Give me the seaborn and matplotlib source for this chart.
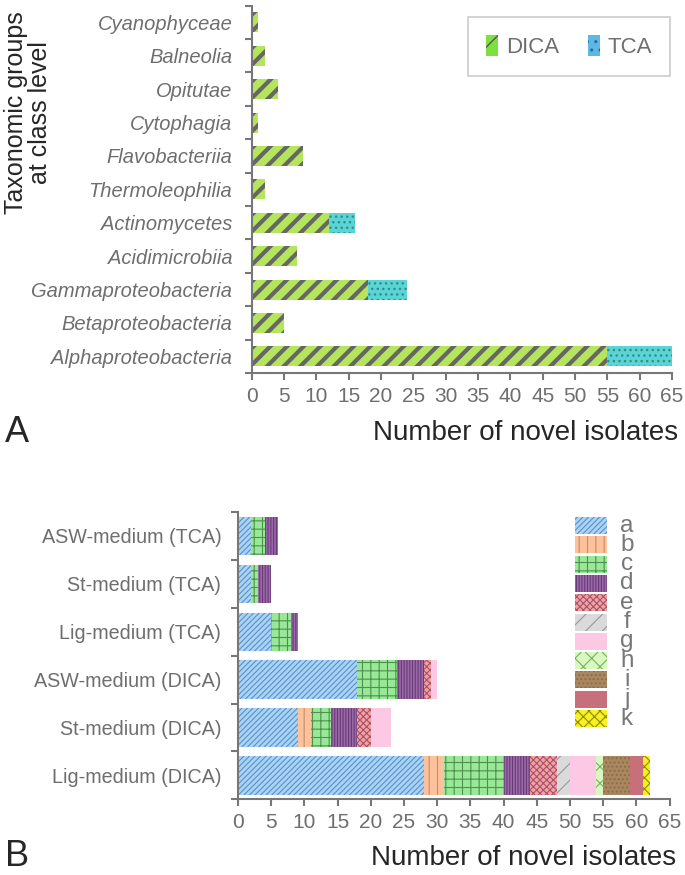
import matplotlib
matplotlib.use('Agg')
import numpy as np
import matplotlib.pyplot as plt
import seaborn as sns
from matplotlib.patches import Patch, Rectangle
from matplotlib.ticker import MultipleLocator, FixedLocator

# ---- panel A data: novel isolates per class, by cultivation approach
taxa = ['Cyanophyceae', 'Balneolia', 'Opitutae', 'Cytophagia', 'Flavobacteriia',
        'Thermoleophilia', 'Actinomycetes', 'Acidimicrobiia', 'Gammaproteobacteria',
        'Betaproteobacteria', 'Alphaproteobacteria']
dica = [1, 2, 4, 1, 8, 2, 12, 7, 18, 5, 55]
tca = [0, 0, 0, 0, 0, 0, 4, 0, 6, 0, 10]

# ---- panel B data: novel isolates per medium, split by group a-k
media = ['ASW-medium (TCA)', 'St-medium (TCA)', 'Lig-medium (TCA)',
         'ASW-medium (DICA)', 'St-medium (DICA)', 'Lig-medium (DICA)']
groups = ['a', 'b', 'c', 'd', 'e', 'f', 'g', 'h', 'i', 'j', 'k']
a_counts = [2, 2, 5, 18, 9, 28]
b_counts = [0, 0, 0, 0, 2, 3]
c_counts = [2, 1, 3, 6, 3, 9]
d_counts = [2, 2, 1, 4, 4, 4]
e_counts = [0, 0, 0, 1, 2, 4]
f_counts = [0, 0, 0, 0, 0, 2]
g_counts = [0, 0, 0, 1, 3, 4]
h_counts = [0, 0, 0, 0, 0, 1]
i_counts = [0, 0, 0, 0, 0, 4]
j_counts = [0, 0, 0, 0, 0, 2]
k_counts = [0, 0, 0, 0, 0, 1]

# face colour, hatch, hatch colour for each group
group_styles = [
    ('#aad4f5', '//////', '#5b8fc7'),
    ('#fdc29c', '||', '#c98a6a'),
    ('#98e898', '++', '#4f8f4f'),
    ('#9a6aa8', '||||||', '#6a3a78'),
    ('#eba3aa', 'xxxxx', '#b05060'),
    ('#dadada', '//', '#999999'),
    ('#fcc8e4', '', '#fcc8e4'),
    ('#d8f8c0', 'xx', '#78b060'),
    ('#a8865e', '....', '#8a6a48'),
    ('#c8707a', '', '#c8707a'),
    ('#f8f020', 'xxx', '#8a8a00'),
]

sns.set_style('ticks')
plt.rcParams['font.family'] = ['Liberation Sans', 'DejaVu Sans']
plt.rcParams['hatch.linewidth'] = 1.0

GREY = '#777777'
TXT = '#6e6e6e'


def style(patches, face, hatch, hcolor, edge=None, lw=0.8, hlw=1.0):
    for p in patches:
        p.set_facecolor(face)
        p.set_hatch(hatch)
        if hasattr(p, 'set_hatchcolor'):
            p.set_edgecolor(edge if edge else face)
            p.set_linewidth(lw)
            p.set_hatchcolor(hcolor)
        else:
            p.set_edgecolor(hcolor)
            p.set_linewidth(0)
        if hasattr(p, 'set_hatch_linewidth'):
            p.set_hatch_linewidth(hlw)


def axis_look(ax):
    sns.despine(ax=ax)
    for s in ['left', 'bottom']:
        ax.spines[s].set_color(GREY)
        ax.spines[s].set_linewidth(1.5)


fig = plt.figure(figsize=(6.85, 8.75), dpi=100)

# ================= panel A =================
axA = fig.add_axes([0.3675, 0.5737, 0.6136, 0.4198])
total = [d + t for d, t in zip(dica, tca)]

n0 = len(axA.patches)
sns.barplot(x=total, y=taxa, order=taxa, orient='h', color='#5ad5d5',
            saturation=1, width=0.6, errorbar=None, ax=axA)
style(axA.patches[n0:], '#5ad5d5', '...', '#3a8a8a', edge='#7ee0e0', hlw=1.0)
n1 = len(axA.patches)
sns.barplot(x=dica, y=taxa, order=taxa, orient='h', color='#b5e55c',
            saturation=1, width=0.6, errorbar=None, ax=axA)
style(axA.patches[n1:], '#b5e55c', '//', '#666666', edge='#c5ee7a', hlw=3.0)

axA.set_xlim(0, 65)
axA.set_ylim(len(taxa) - 0.5, -0.5)
axA.xaxis.set_major_locator(MultipleLocator(5))
axA.yaxis.set_minor_locator(FixedLocator(np.arange(-0.5, len(taxa), 1)))
axA.tick_params(axis='y', which='major', length=0, pad=14,
                labelsize=14.5, labelcolor=TXT)
axA.tick_params(axis='y', which='minor', length=5, width=1.5, color=GREY)
axA.tick_params(axis='x', length=5, width=1.5, color=GREY,
                labelsize=15, labelcolor=TXT, pad=5)
for lbl in axA.get_yticklabels():
    lbl.set_style('italic')
axis_look(axA)
axA.set_ylabel('')
axA.set_xlabel('Number of novel isolates', fontsize=20, loc='right')
axA.xaxis.set_label_coords(1.015, -0.128)

legA = [Patch(label='DICA'), Patch(label='TCA')]
style([legA[0]], '#7be040', '/', '#555555', edge='#9be870', hlw=2.5)
style([legA[1]], '#5cb8e6', '..', '#33667f', edge='#86cdee', hlw=1.0)
lg = axA.legend(handles=legA, ncol=2, loc='upper right', bbox_to_anchor=(0.9955, 0.969),
                borderaxespad=0, frameon=True, fancybox=False, edgecolor='#cccccc',
                framealpha=1, fontsize=16, handlelength=0.55, handleheight=1.1,
                handletextpad=0.35, columnspacing=1.3, borderpad=0.8, labelcolor=TXT)
lg.get_frame().set_linewidth(1.2)

fig.text(0.0416, 1 - 113 / 875, 'Taxonomic groups\nat class level', rotation=90,
         fontsize=18, ha='center', va='center', linespacing=1.0)

# ================= panel B =================
axB = fig.add_axes([0.3474, 0.0865, 0.630, 0.3283])
counts = np.array([a_counts, b_counts, c_counts, d_counts, e_counts, f_counts,
                   g_counts, h_counts, i_counts, j_counts, k_counts])
cum = np.cumsum(counts, axis=0)

# stacked bars: draw cumulative totals from the last group to the first
for gi in reversed(range(len(groups))):
    face, hatch, hcol = group_styles[gi]
    n0 = len(axB.patches)
    sns.barplot(x=cum[gi], y=media, order=media, orient='h', color=face,
                saturation=1, width=0.8, errorbar=None, ax=axB)
    style(axB.patches[n0:], face, hatch, hcol, edge='#b5b5b5', lw=0.8, hlw=0.8)

axB.set_xlim(0, 65)
axB.set_ylim(len(media) - 0.5, -0.5)
axB.xaxis.set_major_locator(MultipleLocator(5))
axB.yaxis.set_minor_locator(FixedLocator(np.arange(-0.5, len(media), 1)))
axB.tick_params(axis='y', which='major', length=0, pad=12,
                labelsize=14.2, labelcolor=TXT)
axB.tick_params(axis='y', which='minor', length=5, width=1.5, color=GREY)
axB.tick_params(axis='x', length=5, width=1.5, color=GREY,
                labelsize=15, labelcolor=TXT, pad=5)
axis_look(axB)
axB.set_ylabel('')
axB.set_xlabel('Number of novel isolates', fontsize=20, loc='right')
axB.xaxis.set_label_coords(1.015, -0.159)

# group key
for gi, g in enumerate(groups):
    face, hatch, hcol = group_styles[gi]
    top = 0.9826 - gi * 0.0672
    r = Rectangle((0.781, top - 0.0592), 0.0741, 0.0592, transform=axB.transAxes,
                  clip_on=False)
    style([r], face, hatch, hcol, edge='#b5b5b5', lw=0.8, hlw=0.8)
    axB.add_patch(r)
    axB.text(0.901, top - 0.0296, g, transform=axB.transAxes, fontsize=17.5,
             color=GREY, ha='center', va='center')

fig.text(17 / 685, 1 - 432 / 875, 'A', fontsize=26, ha='center', va='center')
fig.text(17 / 685, 1 - 857 / 875, 'B', fontsize=26, ha='center', va='center')

fig.savefig('out.png', dpi=100)
